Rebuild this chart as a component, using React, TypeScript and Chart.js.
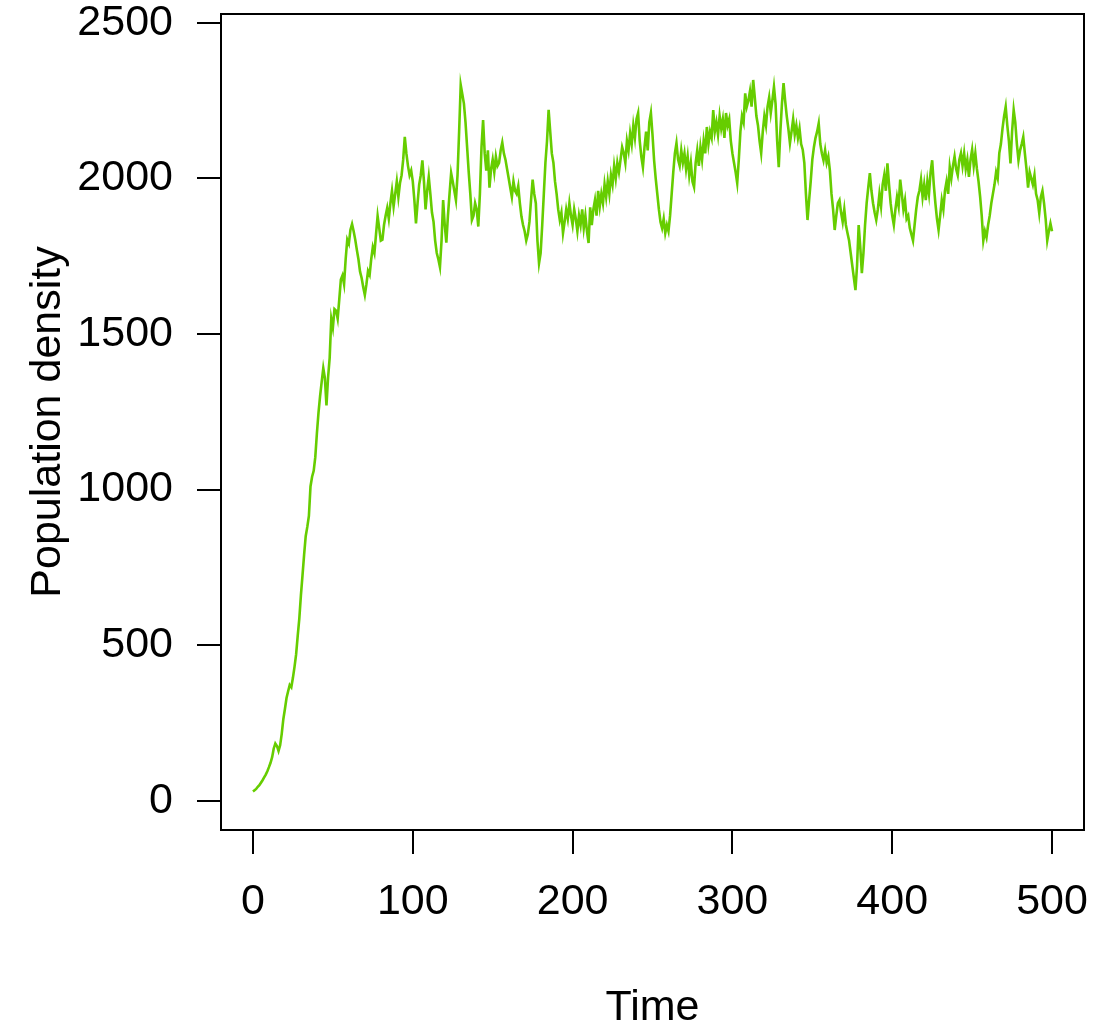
import React, { useEffect, useRef } from "react";
import { Chart, registerables } from "chart.js";

Chart.register(...registerables);

// Population density at each time unit 0..500
const population: number[] = [
  30, 34, 38, 45, 50, 58, 66, 75, 84, 95,
  108, 122, 140, 168, 184, 176, 160, 178, 215, 262,
  295, 330, 352, 372, 365, 395, 430, 470, 530, 585,
  660, 724, 790, 850, 880, 915, 1010, 1041, 1060, 1104,
  1180, 1246, 1300, 1346, 1390, 1358, 1270, 1360, 1423, 1549,
  1520, 1580, 1575, 1549, 1610, 1675, 1688, 1660, 1740, 1803,
  1790, 1835, 1853, 1830, 1803, 1770, 1740, 1700, 1680, 1650,
  1625, 1660, 1702, 1690, 1740, 1779, 1760, 1820, 1879, 1840,
  1800, 1803, 1850, 1880, 1905, 1870, 1920, 1960, 1910, 1950,
  1990, 1940, 1985, 2010, 2060, 2133, 2080, 2040, 2010, 2025,
  1990, 1930, 1855, 1920, 1980, 2010, 2058, 1990, 1900, 1960,
  2005, 1950, 1890, 1860, 1800, 1760, 1740, 1715, 1800, 1930,
  1850, 1793, 1880, 1950, 2017, 1990, 1960, 1930, 2010, 2150,
  2300, 2270, 2240, 2180, 2100, 2020, 1950, 1866, 1880, 1920,
  1900, 1845, 1950, 2100, 2187, 2080, 2025, 2090, 1970, 2030,
  2060, 2020, 2070, 2040, 2050, 2090, 2115, 2080, 2060, 2030,
  2000, 1970, 1940, 1990, 1960, 1950, 1975, 1920, 1877, 1850,
  1830, 1800, 1820, 1860, 1930, 1996, 1950, 1920, 1800, 1727,
  1760, 1850, 1950, 2050, 2120, 2220, 2150, 2080, 2050, 1990,
  1950, 1900, 1866, 1890, 1824, 1860, 1900, 1870, 1920, 1880,
  1850, 1900, 1870, 1830, 1880, 1850, 1900, 1840, 1880, 1830,
  1792, 1907, 1850, 1900, 1930, 1880, 1960, 1910, 1950, 1920,
  1980, 1940, 1990, 1950, 2010, 1980, 2040, 2000, 2050, 2020,
  2060, 2100, 2081, 2050, 2120, 2090, 2145, 2110, 2170, 2130,
  2190, 2210, 2120, 2070, 2036, 2100, 2150, 2090, 2180, 2210,
  2140, 2058, 2000, 1950, 1900, 1860, 1840, 1870, 1824, 1850,
  1830, 1880, 1950, 2020, 2080, 2113, 2060, 2040, 2090, 2050,
  2080, 2030, 2070, 2010, 2050, 1990, 1972, 2050, 2090, 2040,
  2100, 2060, 2120, 2080, 2165, 2110, 2150, 2130, 2219, 2150,
  2180, 2140, 2200, 2160, 2190, 2130, 2210, 2170, 2190, 2120,
  2080, 2050, 2020, 1985, 2060, 2150, 2200, 2180, 2273, 2230,
  2250, 2280, 2230, 2316, 2260, 2200, 2170, 2120, 2081, 2150,
  2200, 2170, 2230, 2260, 2210, 2250, 2294, 2240, 2120, 2036,
  2150, 2240, 2306, 2250, 2200, 2160, 2113, 2150, 2190, 2140,
  2170, 2130, 2160, 2110, 2092, 2050, 1950, 1866, 1930, 1990,
  2060, 2100, 2130, 2150, 2177, 2110, 2080, 2058, 2090, 2050,
  2070, 2025, 1950, 1900, 1834, 1880, 1920, 1930, 1890, 1860,
  1900, 1850, 1824, 1800, 1760, 1720, 1680, 1641, 1720, 1850,
  1780, 1695, 1760, 1850, 1920, 1970, 2017, 1960, 1920, 1890,
  1866, 1900, 1950, 1910, 1980, 2010, 1960, 2048, 1980, 1920,
  1880, 1850, 1900, 1940, 1910, 1996, 1950, 1900, 1930, 1870,
  1880, 1840, 1820, 1800, 1850, 1900, 1940, 1960, 1996, 1940,
  1980, 1930, 1990, 1950, 2020, 2058, 1980, 1920, 1870, 1834,
  1880, 1930, 1900, 1960, 1990, 1950, 2036, 2000, 2040, 2070,
  2030, 2010, 2060, 2081, 2040, 2080, 2030, 2060, 2005, 2060,
  2092, 2040, 2080, 2030, 1990, 1941, 1880, 1800, 1830, 1810,
  1850, 1880, 1920, 1950, 1980, 2020, 2000, 2081, 2110, 2160,
  2200, 2230, 2170, 2120, 2048, 2150, 2220, 2180, 2110, 2058,
  2090, 2110, 2133, 2080, 2030, 1970, 2020, 2000, 1980, 2010,
  1950, 1930, 1888, 1940, 1960, 1920, 1870, 1800, 1830, 1855,
  1830,
];

// time step of one unit per sample
const times: number[] = population.map((_, i) => i);

const xTicks: number[] = [0, 100, 200, 300, 400, 500];
const yTicks: number[] = [0, 500, 1000, 1500, 2000, 2500];

const xLabel = "Time";
const yLabel = "Population density";

const FONT = "'Liberation Sans', Arial, Helvetica, sans-serif";

const boxPlugin = {
  id: "rbox",
  afterDraw(chart: any) {
    const { ctx, chartArea } = chart;
    ctx.save();
    ctx.strokeStyle = "#000";
    ctx.lineWidth = 2;
    ctx.strokeRect(
      chartArea.left,
      chartArea.top,
      chartArea.right - chartArea.left,
      chartArea.bottom - chartArea.top
    );
    ctx.restore();
  },
};

export default function App() {
  const ref = useRef<HTMLCanvasElement>(null);

  useEffect(() => {
    if (!ref.current) return;
    const chart = new Chart(ref.current, {
      type: "line",
      data: {
        datasets: [
          {
            data: times.map((t, i) => ({ x: t, y: population[i] })),
            borderColor: "#66CD00",
            borderWidth: 2.6,
            pointRadius: 0,
            tension: 0,
            fill: false,
          },
        ],
      },
      options: {
        responsive: false,
        animation: false,
        layout: { padding: { top: 14, right: 10, left: 0, bottom: 0 } },
        plugins: {
          legend: { display: false },
          tooltip: { enabled: false },
        },
        scales: {
          x: {
            type: "linear",
            min: -20,
            max: 520,
            afterBuildTicks: (scale: any) => {
              scale.ticks = xTicks.map((v) => ({ value: v }));
            },
            afterFit: (scale: any) => {
              scale.height = 202;
              scale.paddingLeft = 0;
              scale.paddingRight = 0;
              scale.paddingTop = 0;
              scale.paddingBottom = 0;
            },
            grid: {
              display: true,
              drawOnChartArea: false,
              drawTicks: true,
              tickLength: 24,
              color: "#000",
              lineWidth: 2,
            },
            border: { display: false },
            ticks: {
              color: "#000",
              font: { family: FONT, size: 43 },
              padding: 22,
              autoSkip: false,
              maxRotation: 0,
              callback: (v: any) => String(v),
            },
            title: {
              display: true,
              text: xLabel,
              color: "#000",
              font: { family: FONT, size: 43, lineHeight: 1.1 },
              padding: { top: 0, bottom: 0 },
            },
          },
          y: {
            type: "linear",
            min: -94,
            max: 2528,
            afterBuildTicks: (scale: any) => {
              scale.ticks = yTicks.map((v) => ({ value: v }));
            },
            afterFit: (scale: any) => {
              scale.width = 221;
              scale.paddingLeft = 0;
              scale.paddingRight = 0;
              scale.paddingTop = 0;
              scale.paddingBottom = 0;
            },
            grid: {
              display: true,
              drawOnChartArea: false,
              drawTicks: true,
              tickLength: 24,
              color: "#000",
              lineWidth: 2,
            },
            border: { display: false },
            ticks: {
              color: "#000",
              font: { family: FONT, size: 43 },
              padding: 24,
              autoSkip: false,
              callback: (v: any) => String(v),
            },
            title: {
              display: true,
              text: yLabel,
              color: "#000",
              font: { family: FONT, size: 43, lineHeight: 1.1 },
              padding: { top: 24, bottom: 0 },
            },
          },
        },
      },
      plugins: [boxPlugin],
    });
    return () => chart.destroy();
  }, []);

  return (
    <div style={{ position: "absolute", left: 0, top: 0, width: 1094, height: 1032, background: "#fff" }}>
      <canvas ref={ref} width={1094} height={1032} style={{ display: "block" }} />
    </div>
  );
}
